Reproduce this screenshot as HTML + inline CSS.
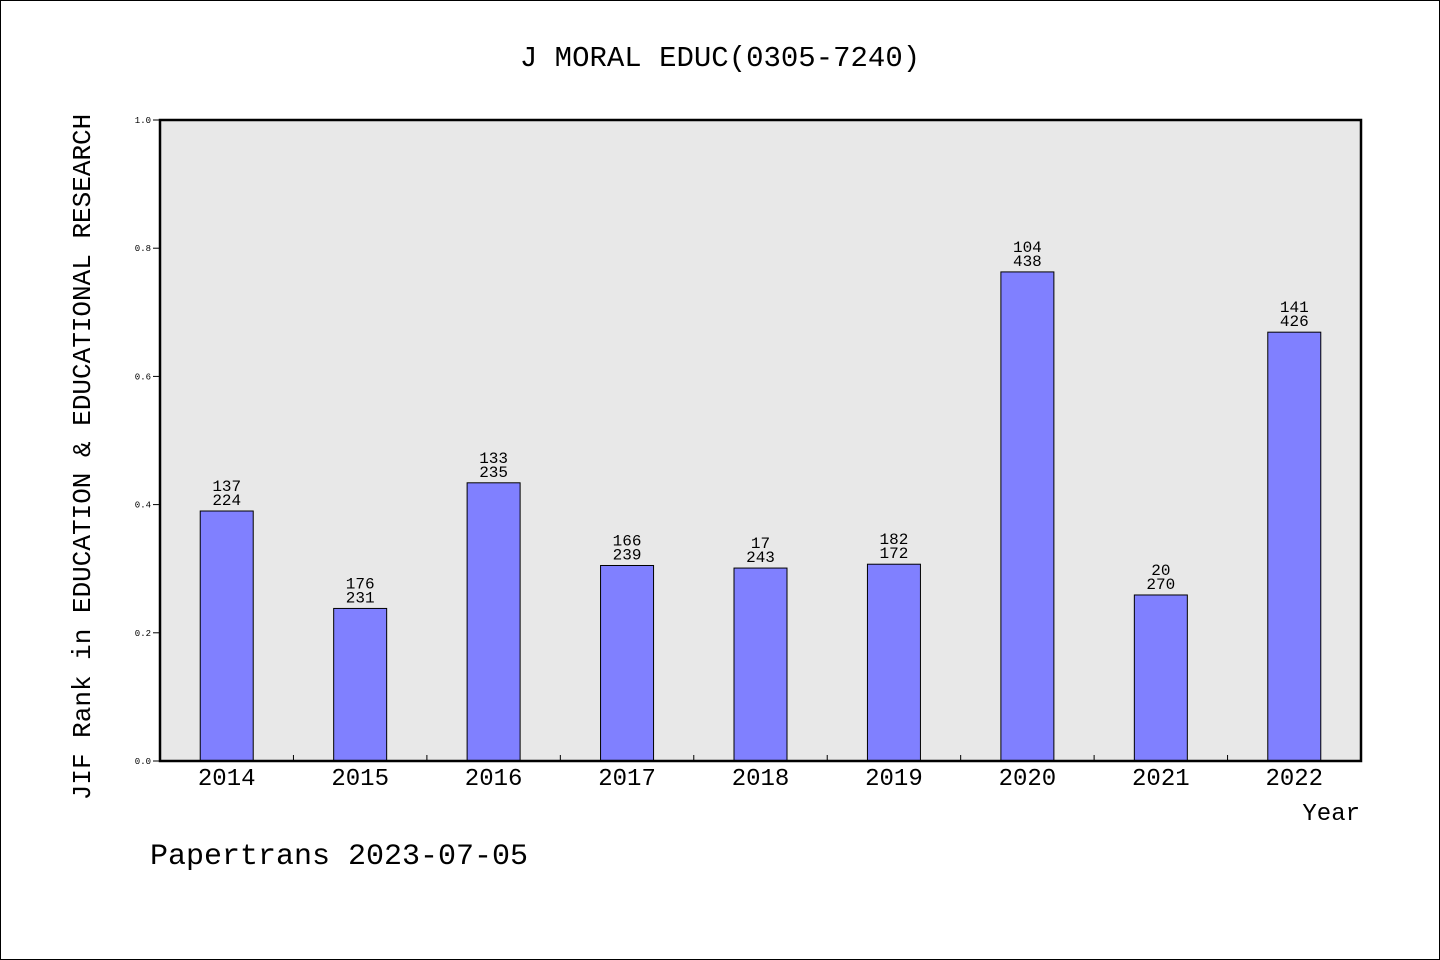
<!DOCTYPE html>
<html><head><meta charset="utf-8"><style>
html,body{margin:0;padding:0;background:#fff}
svg{display:block}
text{font-family:"Liberation Mono","WenQuanYi Zen Hei",monospace;fill:#000}
</style></head><body>
<svg width="1440" height="960" viewBox="0 0 1440 960">
<rect x="0.5" y="0.5" width="1439" height="959" fill="#fff" stroke="#000"/>
<text x="720" y="66" font-size="29" text-anchor="middle">J MORAL EDUC(0305-7240)</text>
<rect x="160" y="120" width="1201" height="641" fill="#e8e8e8"/>
<g id="yticks"></g>
<g id="bars"></g>
<rect x="160" y="120" width="1201" height="641" fill="none" stroke="#000" stroke-width="2.5"/>
<text transform="translate(90,457) rotate(-90)" font-size="26" text-anchor="middle">JIF Rank in EDUCATION &amp; EDUCATIONAL RESEARCH</text>
<text x="1360" y="820" font-size="24" text-anchor="end">Year</text>
<text x="150" y="864" font-size="30">Papertrans 2023-07-05</text>
</svg>
<script>
const categories = ["2014","2015","2016","2017","2018","2019","2020","2021","2022"];
const values = [0.39,0.238,0.434,0.305,0.301,0.307,0.763,0.259,0.669];
const rankLabels = ["137","176","133","166","17","182","104","20","141"];
const totalLabels = ["224","231","235","239","243","172","438","270","426"];
const yTicks = [0,0.2,0.4,0.6,0.8,1.0];
const NS="http://www.w3.org/2000/svg";
const X0=160,X1=1361,Y0=761,Y1=120;
const band=(X1-X0)/categories.length;
const xC=i=>X0+band*(i+0.5);
const y=v=>Y0-(Y0-Y1)*v;
function mk(t,a,p){const e=document.createElementNS(NS,t);for(const k in a)e.setAttribute(k,a[k]);p.appendChild(e);return e;}
const yg=document.getElementById('yticks');
yTicks.forEach(v=>{
 const l=mk('line',{x1:X0-7,x2:X0,y1:y(v),y2:y(v),stroke:'#000','stroke-width':1},yg);
 
 
 const t=mk('text',{x:X0-9,y:y(v)+3,'font-size':9,'text-anchor':'end'},yg);
 t.textContent=v.toFixed(1);
 
 
});
const bg=document.getElementById('bars');
categories.forEach((c,i)=>{
 const bw=53,top=y(values[i]);
 const r=mk('rect',{x:xC(i)-bw/2,y:top,width:bw,height:Y0-top,fill:'#8080ff',stroke:'#000','stroke-width':1},bg);
 
 
 const a=mk('text',{x:xC(i),y:top-20,'font-size':16,'text-anchor':'middle'},bg);
 a.textContent=rankLabels[i];
 
 
 const b=mk('text',{x:xC(i),y:top-6,'font-size':16,'text-anchor':'middle'},bg);
 b.textContent=totalLabels[i];
 
 
 const t=mk('text',{x:xC(i),y:785,'font-size':24,'text-anchor':'middle'},bg);
 t.textContent=c;
 
 
 if(i>0){
  const m=mk('line',{x1:X0+band*i,x2:X0+band*i,y1:Y0,y2:Y0-6,stroke:'#000','stroke-width':1},bg);
  
  
 }
});
</script>
</body></html>
